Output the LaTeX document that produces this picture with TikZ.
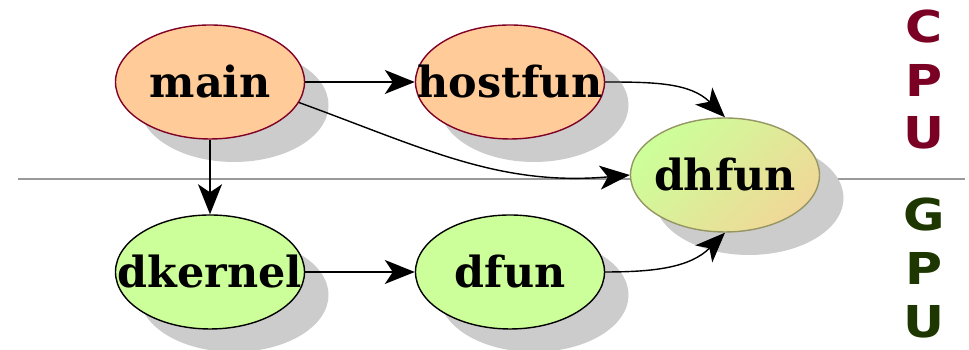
\documentclass[tikz,border=0pt]{standalone}
\usepackage{fontspec}
\usepackage{xcolor}
\usepackage{tikz}
\usetikzlibrary{arrows.meta,shapes.geometric,shadows}
\newfontfamily\fnserif{DejaVu Serif}
\newfontfamily\fnsans{DejaVu Sans}
\definecolor{hostfill}{RGB}{255, 204, 153}
\definecolor{hostline}{RGB}{128, 0, 38}
\definecolor{devfill}{RGB}{204, 255, 153}
\definecolor{mixfill}{RGB}{240, 216, 152}
\definecolor{mixline}{RGB}{150, 150, 100}
\definecolor{cpured}{RGB}{122, 0, 36}
\definecolor{gpugreen}{RGB}{30, 55, 0}
\definecolor{shadowgray}{RGB}{204, 204, 204}

\begin{document}
\begin{tikzpicture}[
        fun/.style={ellipse,minimum width=1.89cm,minimum height=1.14cm,inner sep=0pt,line width=0.4pt,
            font=\fnserif\bfseries\fontsize{12.2}{13}\selectfont,
            drop shadow={shadow xshift=0.24cm,shadow yshift=-0.23cm,fill=shadowgray,opacity=1}},
        hostfn/.style={fun,draw=hostline,fill=hostfill},
        devfn/.style={fun,draw=black,fill=devfill},
        bothfn/.style={fun,draw=mixline,top color=devfill,bottom color=mixfill,shading angle=45},
        callarrow/.style={-{Stealth[length=0.3cm,width=0.24cm,inset=0.08cm]},black,line width=0.4pt},
        side/.style={font=\fnsans\bfseries\fontsize{12.5}{12.5}\selectfont,xscale=1.15}
    ]
        \useasboundingbox (0,0) rectangle (9.69,3.5);
        % host / device border
        \coordinate (sepL) at (0.18,1.71);
        \coordinate (sepR) at (9.65,1.71);
        \draw[gray!80,line width=0.5pt] (sepL) -- (sepR);
        % functions
        \node[hostfn] (main) at (2.10,2.68){\makebox[0pt]{main}};
        \node[hostfn] (hostfun) at (5.10,2.68){\makebox[0pt]{hostfun}};
        \node[devfn] (dkernel) at (2.10,0.78){\makebox[0pt]{dkernel}};
        \node[devfn] (dfun) at (5.10,0.78){\makebox[0pt]{dfun}};
        \node[bothfn] (dhfun) at (7.25,1.75){\makebox[0pt]{dhfun}};
        % calls
        \draw[callarrow] (main) -- (hostfun);
        \draw[callarrow] (main.-13) to[out=-20,in=185] (dhfun.west);
        \draw[callarrow] (main) -- (dkernel);
        \draw[callarrow] (hostfun.east) to[out=0,in=135] (dhfun.north);
        \draw[callarrow] (dkernel) -- (dfun);
        \draw[callarrow] (dfun.east) to[out=0,in=-135] (dhfun.south);
        % side labels
        \foreach \ch/\yy in {C/3.23,P/2.70,U/2.17}
            \node[side,cpured] (cpu\ch) at (9.24,\yy){\ch};
        \foreach \ch/\yy in {G/1.35,P/0.82,U/0.28}
            \node[side,gpugreen] (gpu\ch) at (9.24,\yy){\ch};
    \end{tikzpicture}
\end{document}
